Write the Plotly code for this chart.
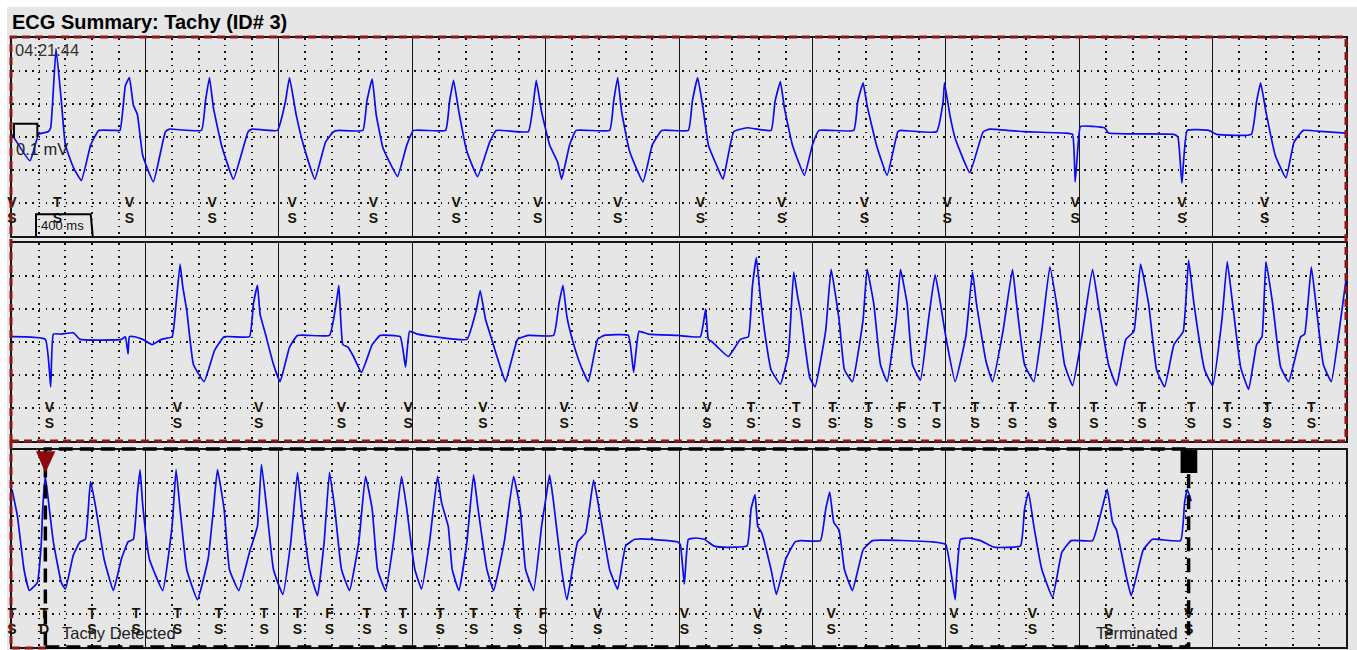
import plotly.graph_objects as go

# ---------------- data (time in s within each 10 s strip, amplitude in mV) -------------
s1_t = [0.00,0.135,0.20,0.27,0.29,0.33,0.37,0.40,0.46,0.52,
        0.59,0.65,0.77,0.81,0.85,0.88,0.91,0.94,0.98,1.06,
        1.15,1.18,1.42,1.45,1.48,1.51,1.57,1.66,1.77,1.80,
        1.99,2.05,2.08,2.13,2.19,2.27,2.35,2.41,2.45,2.63,
        2.66,2.70,2.73,2.78,2.83,2.89,2.96,3.01,3.25,3.28,
        3.31,3.35,3.41,3.49,3.58,3.63,3.87,3.91,3.93,3.97,
        4.03,4.09,4.12,4.18,4.23,4.48,4.51,4.54,4.57,4.63,
        4.73,4.80,4.87,5.07,5.10,5.14,5.18,5.22,5.28,5.33,
        5.41,5.51,5.69,5.72,5.76,5.79,5.85,5.94,6.00,6.05,
        6.31,6.34,6.38,6.41,6.48,6.56,6.64,6.66,6.93,6.98,
        6.99,7.03,7.07,7.18,7.28,7.33,7.59,7.89,7.95,7.97,
        7.99,8.01,8.19,8.22,8.71,8.74,8.77,8.81,8.97,9.03,
        9.29,9.33,9.36,9.40,9.47,9.55,9.61,9.68,9.84,10.0]
s1_v = [0.02,-0.18,0.02,0.04,0.07,0.67,0.27,-0.06,-0.23,-0.33,
        -0.06,0.05,0.05,0.05,0.39,0.45,0.24,0.17,-0.14,-0.34,
        0.04,0.06,0.05,0.27,0.45,0.22,-0.06,-0.32,0.04,0.06,
        0.05,0.27,0.45,0.17,-0.08,-0.32,-0.04,0.04,0.05,0.05,
        0.27,0.44,0.17,-0.08,-0.19,-0.30,-0.06,0.05,0.05,0.27,
        0.43,0.19,-0.11,-0.30,-0.04,0.05,0.04,0.27,0.43,0.19,
        -0.06,-0.19,-0.32,-0.06,0.05,0.05,0.27,0.45,0.19,-0.11,
        -0.34,-0.06,0.05,0.05,0.27,0.45,0.22,-0.06,-0.21,-0.32,
        0.04,0.07,0.05,0.27,0.42,0.22,-0.06,-0.29,-0.06,0.05,
        0.05,0.27,0.41,0.24,-0.06,-0.29,0.04,0.05,0.04,0.27,
        0.41,0.17,-0.01,-0.27,0.04,0.06,0.04,0.03,0.02,-0.34,
        -0.08,0.08,0.07,0.03,0.02,0.0,-0.35,0.05,0.05,0.02,
        0.02,0.27,0.41,0.19,-0.14,-0.31,-0.04,0.05,0.04,0.03]

s2_t = [0.00,0.25,0.29,0.31,0.37,0.46,0.51,0.82,0.85,0.87,
        0.88,0.92,0.98,1.05,1.12,1.20,1.23,1.26,1.28,1.31,
        1.36,1.44,1.52,1.59,1.78,1.81,1.84,1.86,1.90,1.96,
        2.01,2.08,2.14,2.38,2.43,2.45,2.48,2.52,2.56,2.62,
        2.70,2.76,2.91,2.95,2.98,3.04,3.17,3.41,3.48,3.51,
        3.55,3.59,3.66,3.70,3.79,3.87,4.06,4.10,4.13,4.16,
        4.20,4.26,4.32,4.39,4.44,4.62,4.66,4.70,4.77,4.99,
        5.16,5.20,5.22,5.25,5.29,5.37,5.46,5.52,5.55,5.58,
        5.61,5.64,5.69,5.76,5.82,5.86,5.89,5.91,5.98,6.02,
        6.10,6.14,6.20,6.24,6.30,6.38,6.41,6.46,6.51,6.56,
        6.63,6.66,6.71,6.75,6.81,6.87,6.92,6.96,7.00,7.07,
        7.15,7.20,7.23,7.30,7.35,7.43,7.50,7.53,7.59,7.66,
        7.72,7.78,7.83,7.89,7.95,8.02,8.10,8.15,8.22,8.28,
        8.35,8.41,8.46,8.52,8.58,8.64,8.71,8.78,8.82,8.86,
        8.94,9.00,9.07,9.11,9.15,9.21,9.27,9.33,9.37,9.40,
        9.45,9.51,9.57,9.66,9.69,9.74,9.78,9.83,9.89,9.96,
        10.0]
s2_v = [0.04,0.02,-0.34,0.06,0.06,0.07,0.02,0.02,0.04,-0.09,
        0.04,0.04,0.02,-0.02,0.02,0.04,0.29,0.59,0.42,0.24,
        -0.17,-0.30,-0.06,0.04,0.04,0.29,0.43,0.21,0.06,-0.17,
        -0.30,-0.04,0.05,0.05,0.29,0.43,-0.02,-0.04,-0.11,-0.23,
        -0.02,0.05,0.04,-0.19,0.08,0.06,0.04,0.02,0.24,0.39,
        0.17,0.04,-0.19,-0.30,0.02,0.05,0.05,0.29,0.43,0.19,
        0.02,-0.17,-0.30,0.02,0.05,0.05,-0.23,0.08,0.06,0.05,
        0.04,0.25,0.02,0.0,-0.04,-0.11,0.02,0.04,0.42,0.64,
        0.34,0.09,-0.21,-0.32,-0.09,0.53,0.34,0.24,-0.27,-0.34,
        0.09,0.55,0.17,-0.21,-0.30,0.17,0.55,0.29,-0.17,-0.30,
        0.19,0.55,0.29,-0.17,-0.29,0.17,0.51,0.29,0.04,-0.30,
        0.04,0.53,0.29,-0.14,-0.30,0.09,0.55,0.29,-0.17,-0.30,
        0.09,0.57,0.29,-0.17,-0.33,0.04,0.55,0.24,-0.17,-0.33,
        0.02,0.08,0.59,0.29,-0.21,-0.34,-0.02,0.08,0.62,0.29,
        -0.21,-0.33,0.17,0.61,0.29,-0.19,-0.36,-0.02,0.04,0.61,
        0.29,-0.19,-0.30,0.04,0.06,0.57,0.24,-0.17,-0.30,0.17,
        0.47]

s3_t = [0.00,0.04,0.09,0.13,0.19,0.22,0.23,0.25,0.28,0.31,
        0.37,0.40,0.46,0.51,0.55,0.58,0.59,0.63,0.69,0.76,
        0.82,0.87,0.91,0.94,0.96,0.98,1.03,1.13,1.20,1.23,
        1.26,1.31,1.39,1.47,1.51,1.54,1.59,1.63,1.70,1.78,
        1.84,1.87,1.91,1.96,2.03,2.09,2.14,2.17,2.23,2.29,
        2.34,2.38,2.42,2.47,2.53,2.60,2.65,2.70,2.74,2.80,
        2.86,2.92,2.96,2.99,3.02,3.07,3.13,3.19,3.22,3.27,
        3.30,3.35,3.41,3.46,3.49,3.56,3.61,3.69,3.76,3.81,
        3.85,3.91,3.97,4.00,4.03,4.06,4.12,4.16,4.24,4.30,
        4.36,4.41,4.48,4.54,4.60,4.67,4.80,4.99,5.01,5.04,
        5.07,5.13,5.19,5.26,5.33,5.51,5.54,5.57,5.59,5.62,
        5.69,5.73,5.80,5.87,5.91,6.06,6.10,6.13,6.16,6.20,
        6.24,6.30,6.38,6.45,6.90,7.00,7.07,7.08,7.11,7.17,
        7.26,7.36,7.56,7.59,7.62,7.66,7.72,7.80,7.87,7.94,
        8.10,8.17,8.21,8.25,8.28,8.35,8.39,8.48,8.55,8.76,
        8.79,8.81,8.84]
s3_v = [0.45,0.25,-0.16,-0.32,-0.26,0.05,0.30,0.55,0.30,0.05,
        -0.26,-0.31,-0.05,0.05,0.07,0.42,0.51,0.30,-0.08,-0.32,
        -0.08,0.05,0.07,0.42,0.60,0.33,-0.08,-0.32,0.17,0.60,
        0.30,-0.16,-0.39,-0.08,0.30,0.60,0.30,-0.16,-0.32,-0.03,
        0.17,0.64,0.30,-0.16,-0.35,0.05,0.58,0.30,-0.16,-0.36,
        0.05,0.58,0.30,-0.16,-0.32,0.05,0.55,0.30,-0.16,-0.32,
        0.05,0.55,0.30,0.05,-0.16,-0.31,0.05,0.55,0.35,0.17,
        -0.16,-0.32,0.05,0.56,0.33,-0.16,-0.32,0.05,0.55,0.30,
        -0.16,-0.32,0.17,0.37,0.56,0.35,-0.16,-0.39,0.05,0.12,
        0.52,0.25,-0.16,-0.31,0.02,0.07,0.07,0.05,0.03,-0.27,
        0.07,0.08,0.07,0.02,0.01,0.02,0.30,0.41,0.17,0.12,
        -0.16,-0.35,-0.08,0.05,0.06,0.06,0.30,0.43,0.20,0.14,
        -0.16,-0.32,-0.01,0.06,0.05,0.03,-0.39,-0.23,0.07,0.08,
        0.06,0.01,0.02,0.30,0.43,0.17,-0.16,-0.37,-0.03,0.06,
        0.06,0.30,0.45,0.20,0.14,-0.20,-0.36,-0.01,0.07,0.06,
        0.35,0.45,0.36]

# event markers: time, upper code, lower code
m1_t = [0.0,0.34,0.88,1.50,2.10,2.71,3.33,3.94,4.54,5.16,5.77,6.39,7.01,7.97,8.77,9.39]
m1_top = ["V","T"] + ["V"] * 14
m1_bot = ["S"] * 16

m2_t = [0.28,1.24,1.85,2.47,2.97,3.53,4.14,4.66,5.21,
        5.54,5.88,6.15,6.42,6.67,6.93,7.22,7.50,7.80,8.11,8.47,8.84,9.11,9.41,9.74]
m2_top = ["V"] * 9 + ["T","T","T","T","F","T","T","T","T","T","T","T","T","T","T"]
m2_bot = ["S"] * 24

m3_t = [0.0,0.24,0.60,0.93,1.24,1.55,1.89,2.14,2.38,2.66,2.93,3.21,3.46,3.79,3.98,
        4.39,5.04,5.59,6.14,7.06,7.65,8.22,8.82]
m3_top = ["T","T","T","T","T","T","T","T","F","T","T","T","T","T","F",
          "V","V","V","V","V","V","V","V"]
m3_bot = ["S","D"] + ["S"] * 21

detect_t = 0.25      # Tachy detected (strip 3)
terminate_t = 8.82   # Terminated (strip 3)

title = "ECG Summary: Tachy (ID# 3)"
timestamp = "04:21:44"

# ---------------- figure -------------------------------------------------------------
W, H = 1357, 650
L, R = 12, 11
PW = W - L - R
BG = "#e6e6e6"
TRACE = "#0c0cf2"
GRID = "#151515"
RED = "#8e1616"
FONT = "Liberation Sans, Arial, sans-serif"

def py(p):  # pixel row -> paper fraction
    return 1 - p / H

def px(p):  # pixel column -> paper fraction
    return (p - L) / PW

domains = [(py(236), py(38)), (py(441), py(243)), (py(647), py(450))]
strips = [(s1_t, s1_v, m1_t, m1_top, m1_bot),
          (s2_t, s2_v, m2_t, m2_top, m2_bot),
          (s3_t, s3_v, m3_t, m3_top, m3_bot)]

fig = go.Figure()
TOP_Y, BOT_Y = -0.50, -0.625
mark_font = dict(family="Liberation Sans, Arial", size=14, color="#1a1204")

for i, (t, v, mt, mtop, mbot) in enumerate(strips):
    xa = "x" if i == 0 else f"x{i+1}"
    ya = "y" if i == 0 else f"y{i+1}"
    fig.add_trace(go.Scatter(x=t, y=v, mode="lines",
                             line=dict(color=TRACE, width=1.7, shape="spline", smoothing=0.35),
                             xaxis=xa, yaxis=ya, hoverinfo="skip", showlegend=False))
    fig.add_trace(go.Scatter(x=mt, y=[TOP_Y] * len(mt), mode="text",
                             text=[f"<b>{s}</b>" for s in mtop],
                             textfont=mark_font, cliponaxis=False,
                             xaxis=xa, yaxis=ya, hoverinfo="skip", showlegend=False))
    fig.add_trace(go.Scatter(x=mt, y=[BOT_Y] * len(mt), mode="text",
                             text=[f"<b>{s}</b>" for s in mbot],
                             textfont=mark_font, cliponaxis=False,
                             xaxis=xa, yaxis=ya, hoverinfo="skip", showlegend=False))

dotdash = "1.5px,5.2px"
xcommon = dict(range=[0, 10], showticklabels=False, ticks="", showgrid=True, dtick=1, tick0=0,
               gridcolor=GRID, gridwidth=1.4, zeroline=False, showline=True, mirror=True,
               linecolor=GRID, linewidth=1.6, fixedrange=True,
               minor=dict(dtick=0.2, tick0=0, showgrid=True, gridcolor=GRID, gridwidth=1.5,
                          griddash=dotdash, ticks=""))
ycommon = dict(range=[-0.75, 0.75], showticklabels=False, ticks="", showgrid=True, dtick=0.25,
               tick0=0, gridcolor=GRID, gridwidth=1.5, griddash=dotdash, zeroline=False,
               showline=True, mirror=True, linecolor=GRID, linewidth=1.6, fixedrange=True)

layout = dict(width=W, height=H, paper_bgcolor="white", plot_bgcolor=BG,
              margin=dict(l=L, r=R, t=0, b=0, pad=0, autoexpand=False),
              showlegend=False, font=dict(family=FONT))
for i in range(3):
    xk = "xaxis" if i == 0 else f"xaxis{i+1}"
    yk = "yaxis" if i == 0 else f"yaxis{i+1}"
    ya = "y" if i == 0 else f"y{i+1}"
    xa = "x" if i == 0 else f"x{i+1}"
    layout[xk] = dict(xcommon, domain=[0, 1], anchor=ya)
    layout[yk] = dict(ycommon, domain=list(domains[i]), anchor=xa)
fig.update_layout(**layout)

shapes = [
    # page background (white margin at top/left)
    dict(type="rect", xref="paper", yref="paper", x0=px(7), x1=px(W + 2), y0=-0.01, y1=py(7),
         fillcolor=BG, line=dict(width=0), layer="below"),
    # 0.1 mV calibration pulse
    dict(type="path", xref="x", yref="y", path="M 0,0 L 0.015,0 L 0.015,0.1 L 0.19,0.1 L 0.19,0",
         line=dict(color="black", width=2)),
    # 400 ms caliper
    dict(type="path", xref="x", yref="y",
         path="M 0.18,-0.75 L 0.18,-0.585 L 0.59,-0.585 L 0.605,-0.75",
         line=dict(color="black", width=2)),
    # pre-detection (red dashed) region
    dict(type="rect", xref="paper", yref="paper", x0=px(11), x1=px(1346), y0=py(441), y1=py(37),
         line=dict(color=RED, width=3, dash="8px,5px")),
    dict(type="path", xref="paper", yref="paper",
         path=f"M {px(11)},{py(441)} L {px(11)},{py(648)} L {px(46)},{py(648)}",
         line=dict(color=RED, width=3, dash="8px,5px")),
    # episode (black dashed) region
    dict(type="rect", xref="x3", yref="paper", x0=detect_t, x1=terminate_t, y0=py(647), y1=py(449),
         line=dict(color="black", width=3.5, dash="14px,7px")),
    # detection triangle
    dict(type="path", xref="x3", yref="y3",
         path=f"M {detect_t-0.07},0.74 L {detect_t+0.075},0.74 L {detect_t},0.575 Z",
         fillcolor="#8b0a0a", line=dict(width=0)),
    # termination square
    dict(type="rect", xref="x3", yref="y3", x0=terminate_t - 0.06, x1=terminate_t + 0.065,
         y0=0.575, y1=0.75, fillcolor="black", line=dict(width=0)),
]
fig.update_layout(shapes=shapes)

ann = [
    dict(text=f"<b>{title}</b>", xref="paper", yref="paper", x=px(10), y=py(22),
         xanchor="left", yanchor="middle", showarrow=False,
         font=dict(size=20, color="black", family=FONT)),
    dict(text=timestamp, xref="x", yref="y", x=0.005, y=0.66, xanchor="left", yanchor="middle",
         showarrow=False, font=dict(size=16.5, color="#333333", family=FONT)),
    dict(text="0.1 mV", xref="x", yref="y", x=0.015, y=-0.09, xanchor="left", yanchor="middle",
         showarrow=False, font=dict(size=16.5, color="#222222", family=FONT)),
    dict(text="400 ms", xref="x", yref="y", x=0.2, y=-0.67, xanchor="left", yanchor="middle",
         showarrow=False, font=dict(size=13, color="#111111", family=FONT)),
    dict(text="Tachy Detected", xref="x3", yref="y3", x=0.36, y=-0.645, xanchor="left",
         yanchor="middle", showarrow=False, font=dict(size=16.5, color="#222222", family=FONT)),
    dict(text="Terminated", xref="x3", yref="y3", x=8.11, y=-0.645, xanchor="left",
         yanchor="middle", showarrow=False, font=dict(size=16.5, color="#222222", family=FONT)),
]
fig.update_layout(annotations=ann)

fig.write_html("out.html", config={"displayModeBar": False},
               post_script="document.body.style.margin='0';document.body.style.overflow='hidden';")
